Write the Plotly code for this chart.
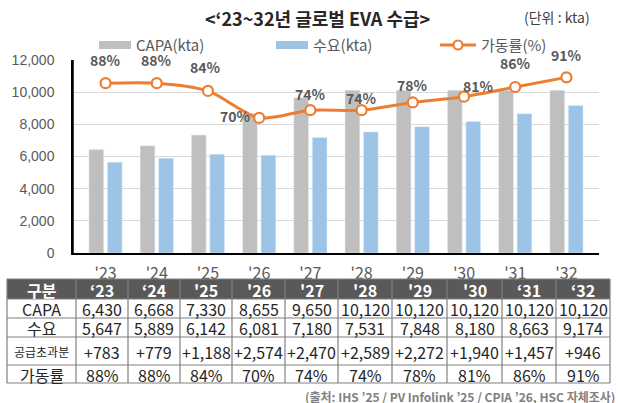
import plotly.graph_objects as go

# ---------------- data ----------------
years = ["'23", "'24", "'25", "'26", "'27", "'28", "'29", "'30", "'31", "'32"]
header_years = ["‘23", "‘24", "'25", "'26", "'27", "'28", "'29", "'30", "‘31", "‘32"]
capa = [6430, 6668, 7330, 8655, 9650, 10120, 10120, 10120, 10120, 10120]
demand = [5647, 5889, 6142, 6081, 7180, 7531, 7848, 8180, 8663, 9174]
oversupply = [783, 779, 1188, 2574, 2470, 2589, 2272, 1940, 1457, 946]
utilization = [88, 88, 84, 70, 74, 74, 78, 81, 86, 91]
y_ticks = [0, 2000, 4000, 6000, 8000, 10000, 12000]
row_labels = ["CAPA", "수요", "공급초과분", "가동률"]

# ---------------- styles / layout ----------------
W, H = 618, 403
ML, MR, MT, MB = 73, 19, 60, 150
PW, PH = W - ML - MR, H - MT - MB
KFONT = "Noto Sans CJK KR, Noto Sans, sans-serif"
GREY_TXT = "#595959"
C_CAPA = "#BFBFBF"
C_DEM = "#9DC3E6"
C_UTIL = "#ED7D31"

# label offsets (xshift, yshift) in px for utilization labels
label_shift = [(0, 23), (0, 23), (-2, 24), (-24, 2), (0, 16), (0, 12), (0, 17), (14, 11), (0, 24), (0, 22)]


def X(px):
    return (px - ML) / PW


def Y(py):
    return (H - MB - py) / PH


fig = go.Figure()
fig.add_trace(go.Bar(x=years, y=capa, name="CAPA(kta)", marker_color=C_CAPA, showlegend=False))
fig.add_trace(go.Bar(x=years, y=demand, name="수요(kta)", marker_color=C_DEM, showlegend=False))
fig.add_trace(go.Scatter(
    x=years, y=utilization, name="가동률(%)", yaxis="y2", mode="lines+markers",
    line=dict(color=C_UTIL, width=3, shape="spline", smoothing=0.8),
    marker=dict(size=10, color="white", line=dict(color=C_UTIL, width=2.2)),
    showlegend=False, cliponaxis=False,
))

annotations = []
shapes = []


def ann(px, py, text, size, color, bold=False, xanchor="center"):
    annotations.append(dict(x=X(px), y=Y(py), xref="paper", yref="paper", showarrow=False, text=text,
                            xanchor=xanchor, yanchor="middle",
                            font=dict(size=size, color=color, family=KFONT, weight="bold" if bold else "normal")))


# utilization labels
for yr, u, (dx, dy) in zip(years, utilization, label_shift):
    annotations.append(dict(
        x=yr, y=u, xref="x", yref="y2", text=f"{u}%", showarrow=False, xanchor="center", yanchor="middle",
        xshift=dx, yshift=dy, font=dict(size=14, color=GREY_TXT, family=KFONT, weight="bold"),
    ))

# title and unit
ann(317, 18, "&lt;‘23~32년 글로벌 EVA 수급&gt;", 18, "#262626", True)
ann(557, 17, "(단위 : kta)", 14, "#404040")

# custom legend
leg_y = 45
shapes.append(dict(type="rect", xref="paper", yref="paper", x0=X(99), x1=X(131), y0=Y(leg_y - 4), y1=Y(leg_y + 4),
                   fillcolor=C_CAPA, line=dict(width=0)))
ann(134, leg_y, "CAPA(kta)", 15, GREY_TXT, xanchor="left")
shapes.append(dict(type="rect", xref="paper", yref="paper", x0=X(276), x1=X(308), y0=Y(leg_y - 4), y1=Y(leg_y + 4),
                   fillcolor=C_DEM, line=dict(width=0)))
ann(311, leg_y, "수요(kta)", 15, GREY_TXT, xanchor="left")
shapes.append(dict(type="line", xref="paper", yref="paper", x0=X(440), x1=X(476), y0=Y(leg_y), y1=Y(leg_y),
                   line=dict(color=C_UTIL, width=3)))
shapes.append(dict(type="circle", xref="paper", yref="paper", x0=X(453.5), x1=X(462.5), y0=Y(leg_y - 4.5),
                   y1=Y(leg_y + 4.5), fillcolor="white", line=dict(color=C_UTIL, width=2.2)))
ann(479, leg_y, "가동률(%)", 15, GREY_TXT, xanchor="left")

# left axis line (explicit)
shapes.append(dict(type="line", xref="paper", yref="paper", x0=0, x1=0, y0=0, y1=1,
                   line=dict(color="black", width=1.5), layer="above"))

# ---------------- table ----------------
col_edges = [7, 76, 128, 180, 232, 285, 338, 392, 447, 502, 556, 610]
row_edges = [279, 299, 318, 337, 365, 383]

shapes.append(dict(type="rect", xref="paper", yref="paper", x0=X(col_edges[0]), x1=X(col_edges[-1]),
                   y0=Y(row_edges[0]), y1=Y(row_edges[1]), fillcolor="#595959", line=dict(width=0)))
for ce in col_edges:
    shapes.append(dict(type="line", xref="paper", yref="paper", x0=X(ce), x1=X(ce), y0=Y(row_edges[0]),
                       y1=Y(row_edges[-1]), line=dict(color="#808080", width=1.2)))
for re_ in row_edges:
    shapes.append(dict(type="line", xref="paper", yref="paper", x0=X(col_edges[0]), x1=X(col_edges[-1]),
                       y0=Y(re_), y1=Y(re_), line=dict(color="#808080", width=1.2)))


def cell(ci, ri, text, size=16, color="#262626", bold=False):
    cx = (col_edges[ci] + col_edges[ci + 1]) / 2
    cy = (row_edges[ri] + row_edges[ri + 1]) / 2
    ann(cx, cy + 0.5, text, size, color, bold)


cell(0, 0, "구분", 16, "white", True)
for i, hy in enumerate(header_years):
    cell(i + 1, 0, hy, 16, "white", True)

rows_vals = [
    [f"{v:,}" for v in capa],
    [f"{v:,}" for v in demand],
    [f"+{v:,}" for v in oversupply],
    [f"{v}%" for v in utilization],
]
for r, (lab, vals) in enumerate(zip(row_labels, rows_vals)):
    cell(0, r + 1, lab, 12 if lab == "공급초과분" else 16)
    for i, t in enumerate(vals):
        cell(i + 1, r + 1, t, 16)

# source
ann(617, 396, "(출처: IHS ’25 / PV Infolink ’25 / CPIA ’26, HSC 자체조사)", 12, "#808080", True, xanchor="right")

fig.update_layout(
    width=W, height=H, autosize=False,
    margin=dict(l=ML, r=MR, t=MT, b=MB, pad=0),
    paper_bgcolor="white", plot_bgcolor="white",
    barmode="group", bargap=0.28, bargroupgap=0.2,
    showlegend=False,
    font=dict(family=KFONT, color=GREY_TXT),
    xaxis=dict(type="category", showgrid=False, showline=True, linecolor="black", linewidth=1.5,
               ticks="", tickfont=dict(size=16, color=GREY_TXT, family=KFONT), ticklabelstandoff=5),
    yaxis=dict(range=[0, 12000], tickvals=y_ticks, tickformat=",", showgrid=True, gridcolor="#D9D9D9",
               gridwidth=1, showline=True, linecolor="black", linewidth=1.5, zeroline=False, ticks="",
               tickfont=dict(size=14, color=GREY_TXT, family="Liberation Sans, Arial"), ticklabelstandoff=14),
    yaxis2=dict(range=[0, 100], overlaying="y", side="right", visible=False),
    annotations=annotations,
    shapes=shapes,
)

fig.write_html("out.html")
